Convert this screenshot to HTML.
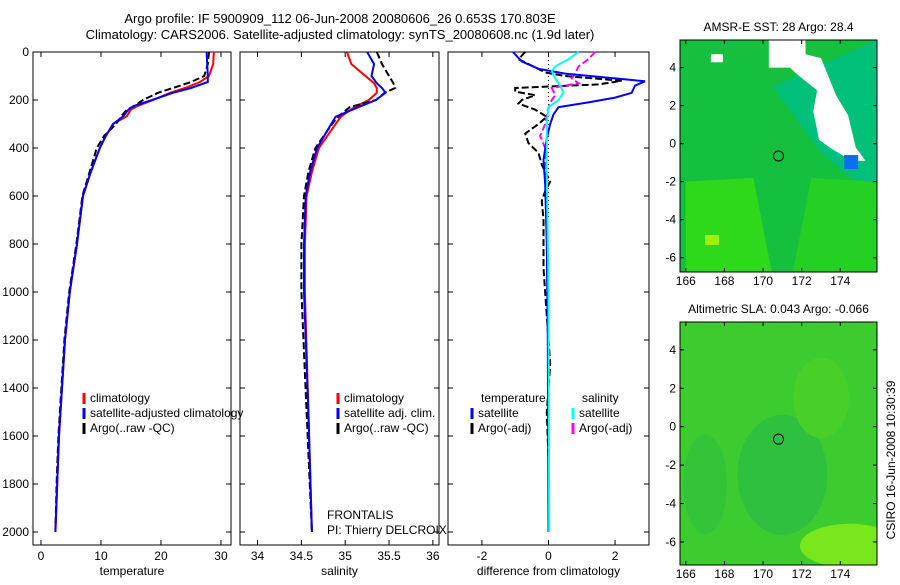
<!DOCTYPE html>
<html><head><meta charset="utf-8"><style>
body{margin:0;background:#fff;}
svg text{font-family:"Liberation Sans",sans-serif;font-size:12px;fill:#000;}
</style></head><body>
<svg id="fig" width="900" height="580" xmlns="http://www.w3.org/2000/svg">
<text x="340" y="23" text-anchor="middle" font-size="13" style="font-size:13px">Argo profile: IF 5900909_112 06-Jun-2008 20080606_26 0.653S 170.803E</text>
<text x="340" y="39" text-anchor="middle" style="font-size:13px">Climatology: CARS2006. Satellite-adjusted climatology: synTS_20080608.nc (1.9d later)</text>
<g id="panels"></g>
<g id="maps"></g>
<text transform="translate(895,460) rotate(-90)" text-anchor="middle">CSIRO 16-Jun-2008 10:30:39</text>
</svg>
<script>
const depthT = [0,50,100,125,150,170,200,226,240,268,300,350,400,500,600,700,800,900,1000,1200,1400,1600,1800,2000];
const tempClim = [28.8,28.7,28.0,26.5,24,21.5,18.7,16,15,14.3,12,10.8,9.8,8.3,7.0,6.5,6.0,5.4,4.8,4.0,3.5,3.0,2.7,2.4];
const tempSat  = [27.6,27.7,27.8,27.8,25,22,18.5,15.4,14.6,13.7,12,10.8,9.8,8.3,7.0,6.5,6.0,5.4,4.8,4.0,3.5,3.0,2.7,2.4];
const tempArgo = [28.0,27.8,27.2,25,22,19.5,17,15.5,14.3,13.4,12.5,10.5,9.3,8.1,6.9,6.4,5.9,5.3,4.7,3.9,3.4,2.9,2.6,2.4];
const depthS = [0,50,100,130,150,170,200,230,270,300,400,500,600,800,1000,1500,2000];
const salClim = [35.02,35.07,35.23,35.33,35.36,35.36,35.27,35.1,34.95,34.89,34.7,34.62,34.56,34.54,34.54,34.58,34.62];
const salSat  = [35.25,35.33,35.30,35.36,35.42,35.46,35.35,35.15,34.89,34.84,34.68,34.6,34.55,34.53,34.53,34.58,34.62];
const salArgo = [35.36,35.42,35.50,35.55,35.57,35.45,35.35,35.05,34.92,34.85,34.66,34.58,34.53,34.5,34.5,34.56,34.62];
const depthD = [0,40,70,90,110,122,140,170,190,210,230,260,300,360,450,550,800,1200,2000];
const diffTSat = [-1.07,-0.8,-0.3,0.5,2.0,2.9,2.6,2.5,2.0,1.2,0.3,0.15,0.05,-0.05,-0.15,-0.1,-0.05,-0.02,0];
const depthDA = [0,30,50,85,100,120,135,150,165,180,200,215,240,270,300,340,380,420,470,540,580,620,700,900,1100,1300,1500,1700,2000];
const diffTArgo = [-0.7,-0.9,-0.6,-0.1,0.5,2.2,1.5,-1.0,-1.0,-0.4,-0.8,-0.9,-0.4,-0.05,-0.3,-0.7,-0.6,-0.3,-0.2,0.05,-0.1,-0.2,-0.15,-0.15,-0.05,0.05,-0.05,0,0];
const depthDS = [0,30,60,80,110,140,170,200,230,300,500,1000,2000];
const diffSSat = [0.9,0.6,0.2,0.1,0.2,0.35,0.45,0.3,0.0,-0.05,-0.05,0,0.02];
const depthDSA = [0,30,60,90,110,130,150,180,200,230,300,350,400,500,700,1200,2000];
const diffSArgo = [1.4,1.2,0.9,0.8,0.7,0.9,0.1,0.2,0.1,0,-0.1,-0.25,-0.1,-0.1,-0.05,0,0];
const tempTicks=[0,10,20,30], salTicks=[34,34.5,35,35.5,36], diffTicks=[-2,0,2];
const depthTicks=[0,200,400,600,800,1000,1200,1400,1600,1800,2000];

const NS='http://www.w3.org/2000/svg';
function mk(tag,attrs,parent,txt){const e=document.createElementNS(NS,tag);for(const k in attrs)e.setAttribute(k,attrs[k]);if(txt!==undefined)e.textContent=txt;parent.appendChild(e);return e;}
const yD = d => 52 + d*0.24;
const P = document.getElementById('panels');

function panel(name,x0,x1,v0,v1,ticks,label,showDepth){
  const g=mk('g',{},P);
  
  
  const xs = v => x0 + (v-v0)/(v1-v0)*(x1-x0);
  const r=mk('rect',{x:x0,y:52,width:x1-x0,height:493,fill:'none',stroke:'#000'},g);
  
  
  ticks.forEach(t=>{const x=xs(t);
    mk('line',{x1:x,x2:x,y1:52,y2:57,stroke:'#000'},g);mk('line',{x1:x,x2:x,y1:545,y2:540,stroke:'#000'},g);
    const tl=mk('text',{x:x,y:560,'text-anchor':'middle'},g,String(t));
    
    
  });
  depthTicks.forEach(d=>{const y=yD(d);
    mk('line',{x1:x0,x2:x0+5,y1:y,y2:y,stroke:'#000'},g);mk('line',{x1:x1,x2:x1-5,y1:y,y2:y,stroke:'#000'},g);
    if(showDepth){const tl=mk('text',{x:x0-4,y:y+4,'text-anchor':'end'},g,String(d));
      
      }
  });
  const at=mk('text',{x:(x0+x1)/2,y:575,'text-anchor':'middle'},g,label);
  
  
  return {g,xs};
}
function line(p,depths,vals,color,dash,name,w){
  const pts=depths.map((d,i)=>p.xs(vals[i]).toFixed(1)+','+yD(d).toFixed(1)).join(' ');
  const l=mk('polyline',{points:pts,fill:'none',stroke:color,'stroke-width':w||2,'stroke-dasharray':dash||'none'},p.g);
  
  
}
function legend(g,x,y,items,name){
  items.forEach((it,i)=>{
    if(it[1]) mk('line',{x1:x,x2:x,y1:y+i*15-9,y2:y+i*15+2,stroke:it[1],'stroke-width':3},g);
    const t=mk('text',{x:x+(it[1]?6:0),y:y+i*15},g,it[0]);
    
    
  });
}
const p1=panel('temperature',33,231,-1.33,31.67,tempTicks,'temperature',true);
line(p1,depthT,tempClim,'#f00',null,'temp-climatology-line');
line(p1,depthT,tempArgo,'#000','7,3','temp-argo-line');
line(p1,depthT,tempSat,'#00f',null,'temp-satellite-line');
legend(p1.g,84,402,[['climatology','#f00'],['satellite-adjusted climatology','#00f'],['Argo(..raw -QC)','#000']],'temp');

const p2=panel('salinity',240,439,33.8,36.07,salTicks,'salinity',false);
line(p2,depthS,salClim,'#f00',null,'sal-climatology-line');
line(p2,depthS,salArgo,'#000','7,3','sal-argo-line');
line(p2,depthS,salSat,'#00f',null,'sal-satellite-line');
legend(p2.g,338,402,[['climatology','#f00'],['satellite adj. clim.','#00f'],['Argo(..raw -QC)','#000']],'sal');
const fr=mk('text',{x:327,y:519},p2.g,'FRONTALIS');
const pi=mk('text',{x:327,y:534},p2.g,'PI: Thierry DELCROIX');

const p3=panel('difference',448,649,-3.02,3.02,diffTicks,'difference from climatology',false);
mk('line',{x1:p3.xs(0),x2:p3.xs(0),y1:52,y2:yD(700),stroke:'#000','stroke-dasharray':'1,3'},p3.g);
line(p3,depthDA,diffTArgo,'#000','7,3','diff-temp-argo-line');
line(p3,depthDSA,diffSArgo,'#f0f','7,3','diff-sal-argo-line');
line(p3,depthD,diffTSat,'#00f',null,'diff-temp-satellite-line');
line(p3,depthDS,diffSSat,'#0ff',null,'diff-sal-satellite-line');
legend(p3.g,481,402,[['temperature',null]],'diff-temp-head');
legend(p3.g,472,417,[['satellite','#00f'],['Argo(-adj)','#000']],'diff-temp');
legend(p3.g,582,402,[['salinity',null]],'diff-sal-head');
legend(p3.g,573,417,[['satellite','#0ff'],['Argo(-adj)','#f0f']],'diff-sal');

// maps
const M=document.getElementById('maps');
const lonTicks=[166,168,170,172,174], latTicks=[4,2,0,-2,-4,-6];
function map(name,top,bottom,latTop,latBot,title,sst){
  const g=mk('g',{},M);
  
  
  const x0=680,x1=877,lon0=165.7,lon1=175.9;
  const xs=v=>x0+(v-lon0)/(lon1-lon0)*(x1-x0);
  const ys=v=>top+(latTop-v)/(latTop-latBot)*(bottom-top);
  const id=name+'-clip';
  const cp=mk('clipPath',{id:id},g);mk('rect',{x:x0,y:top,width:x1-x0,height:bottom-top},cp);
  const c=mk('g',{'clip-path':'url(#'+id+')'},g);
  if(sst){
    mk('rect',{x:x0,y:top,width:x1-x0,height:bottom-top,fill:'#14c03e'},c);
    mk('polygon',{points:`${xs(170.5)},${ys(3)} ${xs(176)},${ys(5.5)} ${xs(176)},${ys(-3)} ${xs(173)},${ys(-0.5)}`,fill:'#00c07a'},c);
    mk('polygon',{points:`${xs(166)},${ys(-2)} ${xs(169.5)},${ys(-1.8)} ${xs(170.5)},${ys(-7)} ${xs(166)},${ys(-7)}`,fill:'#2ed81a'},c);
    mk('polygon',{points:`${xs(172.5)},${ys(-1.8)} ${xs(176)},${ys(-2)} ${xs(176)},${ys(-7)} ${xs(171.5)},${ys(-7)}`,fill:'#24d024'},c);
    mk('polygon',{points:`${xs(170.3)},${ys(5.5)} ${xs(172.2)},${ys(5.5)} ${xs(172.2)},${ys(4.7)} ${xs(173)},${ys(4.5)} ${xs(173.8)},${ys(2.5)} ${xs(174.4)},${ys(1.5)} ${xs(174.8)},${ys(-0.2)} ${xs(175.3)},${ys(-0.9)} ${xs(174.6)},${ys(-0.9)} ${xs(173.6)},${ys(-0.3)} ${xs(172.9)},${ys(0.2)} ${xs(172.6)},${ys(1.7)} ${xs(172.8)},${ys(2.8)} ${xs(171.7)},${ys(3.7)} ${xs(171.4)},${ys(4)} ${xs(170.3)},${ys(4)}`,fill:'#fff'},c);
    mk('rect',{x:xs(174.2),y:ys(-0.6),width:14,height:14,fill:'#0a6ef0'},c);
    mk('rect',{x:xs(167),y:ys(-4.8),width:14,height:10,fill:'#a0f000'},c);
    mk('rect',{x:xs(167.3),y:ys(4.7),width:12,height:8,fill:'#fff'},c);
  } else {
    mk('rect',{x:x0,y:top,width:x1-x0,height:bottom-top,fill:'#3ccc30'},c);
    mk('ellipse',{cx:xs(171),cy:ys(-2.5),rx:45,ry:60,fill:'#30c040'},c);
    mk('ellipse',{cx:xs(173),cy:ys(1.5),rx:28,ry:40,fill:'#48d028'},c);
    mk('ellipse',{cx:xs(174.5),cy:ys(-6.2),rx:50,ry:22,fill:'#7ae61c'},c);
    mk('ellipse',{cx:xs(167),cy:ys(-3),rx:22,ry:50,fill:'#34c438'},c);
  }
  mk('circle',{cx:xs(170.8),cy:ys(-0.65),r:5,fill:'none',stroke:'#000'},c);
  mk('rect',{x:x0,y:top,width:x1-x0,height:bottom-top,fill:'none',stroke:'#000'},g);
  lonTicks.forEach(v=>{const x=xs(v);mk('line',{x1:x,x2:x,y1:bottom,y2:bottom-4,stroke:'#000'},g);mk('line',{x1:x,x2:x,y1:top,y2:top+4,stroke:'#000'},g);
    const t=mk('text',{x:x,y:bottom+13,'text-anchor':'middle'},g,String(v));
    
    });
  latTicks.forEach(v=>{const y=ys(v);mk('line',{x1:x0,x2:x0+4,y1:y,y2:y,stroke:'#000'},g);mk('line',{x1:x1,x2:x1-4,y1:y,y2:y,stroke:'#000'},g);
    const t=mk('text',{x:x0-4,y:y+4,'text-anchor':'end'},g,String(v));
    
    });
  const tt=mk('text',{x:(x0+x1)/2,y:top-9,'text-anchor':'middle','font-size':'11'},g,title);
  
  
}
map('sst-map',40,272,5.45,-6.75,'AMSR-E SST: 28 Argo: 28.4',true);
map('sla-map',322,565,5.45,-7.2,'Altimetric SLA: 0.043 Argo: -0.066',false);
</script>
</body></html>
